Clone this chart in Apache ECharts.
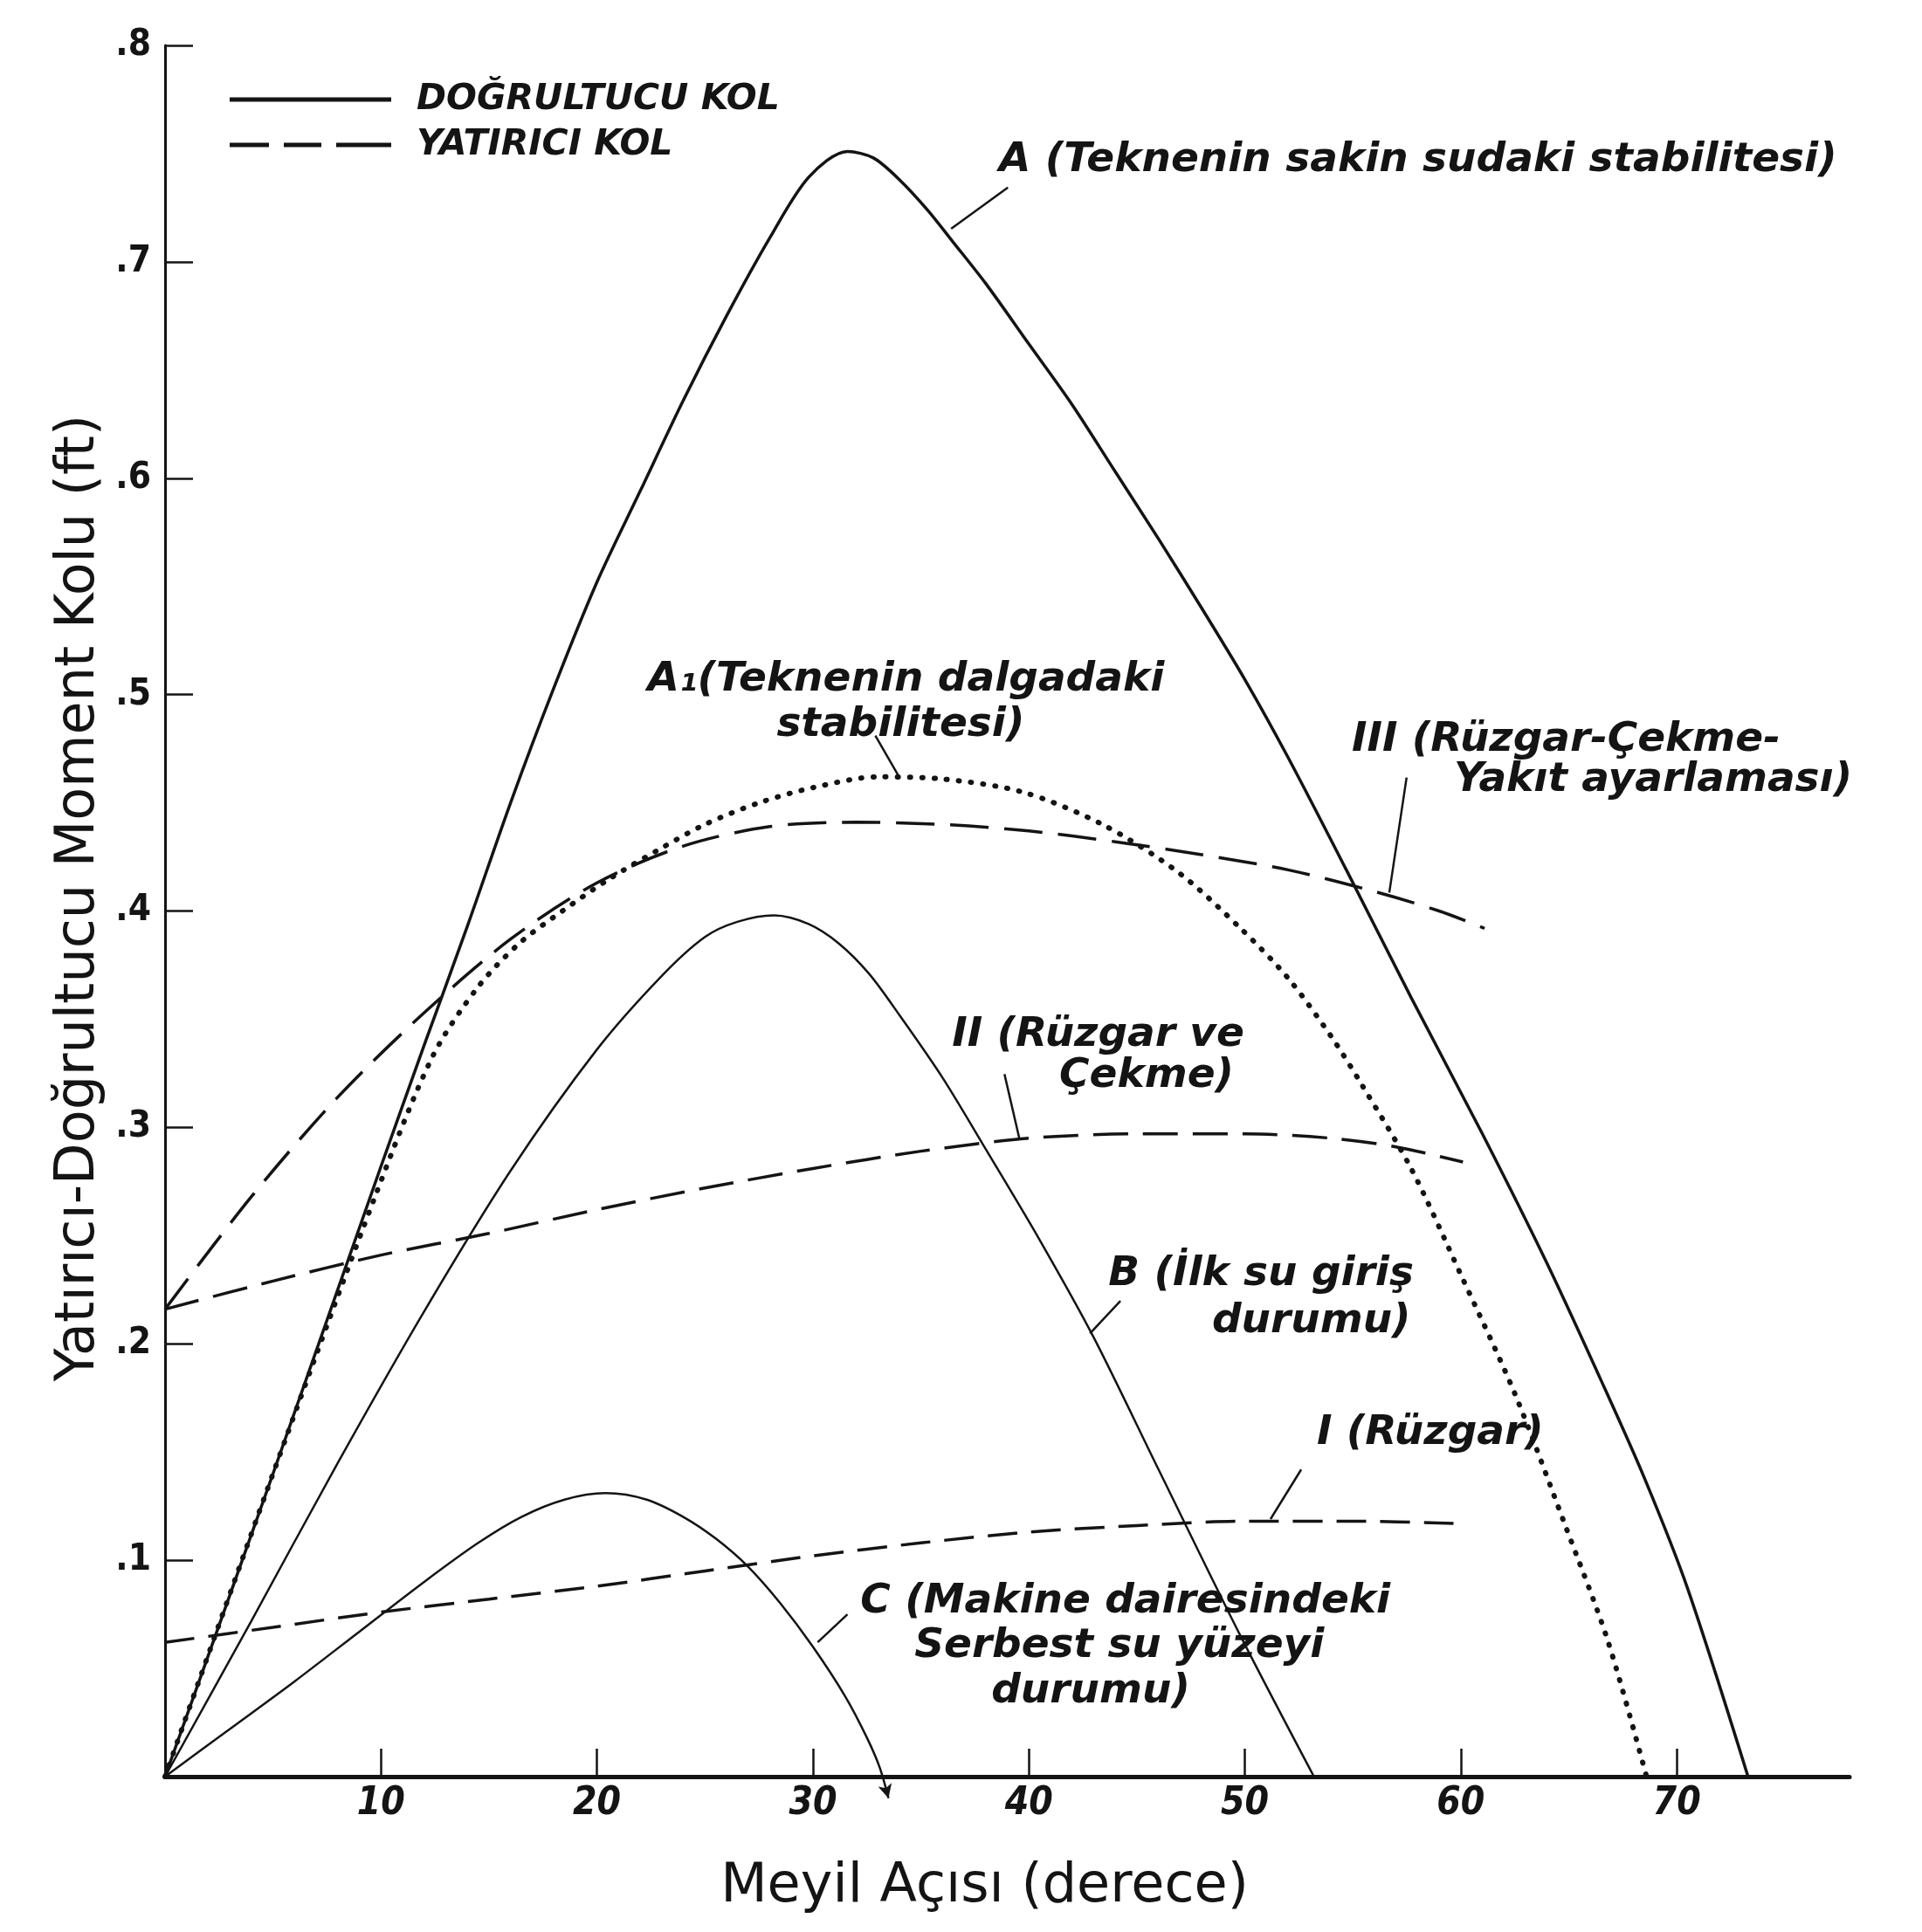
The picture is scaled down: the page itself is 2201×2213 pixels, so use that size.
<!DOCTYPE html>
<html>
<head>
<meta charset="utf-8">
<script src="https://cdn.jsdelivr.net/npm/echarts@6/dist/echarts.min.js"></script>
<style>
html,body{margin:0;padding:0;background:#fff;}
#chart{width:2201px;height:2213px;}
</style>
</head>
<body>
<div id="chart"></div>
<script>
// ---- axis ticks ----
const xTicks = [10, 20, 30, 40, 50, 60, 70];
const xTickLabels = ['10', '20', '30', '40', '50', '60', '70'];
const yTicks = [0.1, 0.2, 0.3, 0.4, 0.5, 0.6, 0.7, 0.8];
const yTickLabels = ['.1', '.2', '.3', '.4', '.5', '.6', '.7', '.8'];

// ---- A (solid) ----
const aX = [0, 5, 10, 12, 14, 16, 18, 20, 22, 24, 26, 28, 29.8, 31.6, 32.8, 34, 35.3, 36.5, 38, 40, 42, 44, 46, 48, 50, 52, 54.7, 57.7, 61, 64, 66.5, 68.5, 70.5, 73.3];
const aY = [0, 0.14, 0.282, 0.338, 0.393, 0.45, 0.503, 0.552, 0.594, 0.636, 0.675, 0.711, 0.739, 0.751, 0.748, 0.738, 0.724, 0.709, 0.69, 0.662, 0.634, 0.603, 0.572, 0.54, 0.507, 0.471, 0.419, 0.36, 0.297, 0.237, 0.183, 0.138, 0.087, 0];
// ---- A1 (dotted) ----
const a1X = [0, 5, 9.8, 12.4, 14.5, 16.4, 18.4, 20.6, 22.8, 25, 27.5, 30, 33, 36, 39.7, 43.4, 46.9, 49.8, 52, 54, 55.4, 57.7, 60, 62.5, 64.8, 66.8, 68.6];
const a1Y = [0, 0.14, 0.27, 0.333, 0.365, 0.385, 0.4, 0.415, 0.428, 0.44, 0.45, 0.457, 0.462, 0.461, 0.455, 0.44, 0.418, 0.392, 0.369, 0.342, 0.32, 0.281, 0.232, 0.177, 0.117, 0.063, 0];
// ---- B (solid) ----
const bX = [0, 4, 8, 12, 16, 20, 23, 25, 26.5, 28.2, 29.8, 31.2, 32.6, 34, 36, 38, 40.5, 43, 46, 49.8, 53.2];
const bY = [0, 0.072, 0.145, 0.215, 0.28, 0.336, 0.37, 0.388, 0.395, 0.398, 0.394, 0.385, 0.371, 0.352, 0.323, 0.29, 0.248, 0.203, 0.142, 0.065, 0];
// ---- C (solid) ----
const cX = [0, 3, 6, 9, 12, 14.5, 16.5, 18.5, 20.4, 22.3, 24, 25.5, 27, 28.5, 30, 31.5, 32.5, 33.1, 33.5];
const cY = [0, 0.022, 0.044, 0.067, 0.09, 0.108, 0.12, 0.128, 0.131, 0.128, 0.12, 0.11, 0.097, 0.08, 0.06, 0.037, 0.018, 0.004, -0.01];
// ---- I (dashed) ----
const s1X = [0, 5, 10, 15, 20, 25, 30, 35, 40, 45, 50, 55, 59.7];
const s1Y = [0.062, 0.069, 0.076, 0.082, 0.088, 0.095, 0.102, 0.108, 0.113, 0.116, 0.118, 0.118, 0.117];
// ---- II (dashed) ----
const s2X = [0, 5, 10, 15, 20, 25, 30, 35, 40, 45, 50, 54, 57, 60.1];
const s2Y = [0.216, 0.229, 0.241, 0.251, 0.262, 0.272, 0.281, 0.289, 0.295, 0.297, 0.297, 0.295, 0.291, 0.284];
// ---- III (dashed) ----
const s3X = [0, 4, 8, 12, 16, 20, 24, 28, 32, 36, 40, 44, 48, 52, 56, 59, 61.1];
const s3Y = [0.216, 0.268, 0.314, 0.353, 0.387, 0.413, 0.43, 0.439, 0.441, 0.44, 0.437, 0.432, 0.426, 0.419, 0.409, 0.4, 0.392];

// ---- legend ----
const legendNames = ['DOĞRULTUCU KOL', 'YATIRICI KOL'];

// ---- annotations (left edge, vertical centre, in data units) ----
const annoTexts = [
  'A (Teknenin sakin sudaki stabilitesi)',
  'A\u2081(Teknenin dalgadaki',
  'stabilitesi)',
  'III (Rüzgar-Çekme-',
  'Yakıt ayarlaması)',
  'II (Rüzgar ve',
  'Çekme)',
  'B (İlk su giriş',
  'durumu)',
  'I (Rüzgar)',
  'C (Makine dairesindeki',
  'Serbest su yüzeyi',
  'durumu)'
];
const annoX = [38.62, 22.34, 28.32, 54.95, 59.68, 36.44, 41.41, 43.68, 48.48, 53.33, 32.2, 34.7, 38.26];
const annoY = [0.7468, 0.5069, 0.4859, 0.479, 0.4605, 0.3427, 0.3238, 0.2319, 0.2101, 0.1585, 0.0806, 0.0601, 0.0391];

// ---- arrows from labels to curves ----
const arrowFromX = [39.03, 32.89, 57.49, 38.87, 44.24, 52.61, 31.6];
const arrowFromY = [0.7343, 0.481, 0.4617, 0.3246, 0.2198, 0.1419, 0.075];
const arrowToX = [36.4, 33.94, 56.69, 39.56, 42.83, 51.19, 30.22];
const arrowToY = [0.7153, 0.4629, 0.4085, 0.2948, 0.2048, 0.119, 0.0621];

function zip(xs, ys) { return xs.map((x, i) => [x, ys[i]]); }

const INK = '#141414';
const HAND = "'DejaVu Sans', sans-serif";
const TITLE = "'DejaVu Sans', sans-serif";
const TICKF = "'DejaVu Sans Condensed', 'DejaVu Sans', sans-serif";

const cData = zip(cX, cY);
cData[cData.length - 1] = { value: cData[cData.length - 1], symbol: 'arrow', symbolSize: [12, 16], symbolRotate: 195, itemStyle: { color: INK } };

const SOLID_ICON = 'path://M0,0H185V5H0Z';
const DASH_ICON = 'path://M0,0H45V5H0Z M62,0H105V5H62Z M122,0H185V5H122Z';

const noteLabel = { show: true, position: 'right', distance: 0, fontFamily: HAND, fontStyle: 'italic', fontWeight: 'bold', fontSize: 47, color: INK, opacity: 1 };

const chart = echarts.init(document.getElementById('chart'), null, { renderer: 'canvas' });

chart.setOption({
  backgroundColor: '#ffffff',
  animation: false,
  grid: { left: 189, right: 83, top: 52, bottom: 178 },
  legend: {
    data: [{ name: legendNames[0], icon: SOLID_ICON }, { name: legendNames[1], icon: DASH_ICON }],
    orient: 'vertical',
    left: 258,
    top: 88,
    itemWidth: 185,
    itemHeight: 5,
    itemGap: 10,
    selectedMode: false,
    itemStyle: { color: INK, borderWidth: 0 },
    textStyle: { fontFamily: HAND, fontStyle: 'italic', fontWeight: 'bold', fontSize: 41, lineHeight: 42, color: INK, padding: [0, 0, 0, 24] }
  },
  xAxis: {
    type: 'value', min: 0, max: 78, interval: 10,
    name: 'Meyil Açısı (derece)', nameLocation: 'middle', nameGap: 96,
    nameTextStyle: { fontFamily: TITLE, fontSize: 62, color: INK, padding: [0, 52, 0, 0] },
    axisLine: { show: true, onZero: false, lineStyle: { color: INK, width: 5 } },
    axisTick: { show: true, inside: true, length: 32, customValues: xTicks, lineStyle: { color: INK, width: 2.5 } },
    axisLabel: {
      customValues: xTicks, margin: 10,
      fontFamily: TICKF, fontStyle: 'italic', fontWeight: 'bold', fontSize: 44, color: INK,
      formatter: v => { const i = xTicks.indexOf(Math.round(v)); return i >= 0 ? xTickLabels[i] : ''; }
    },
    splitLine: { show: false }
  },
  yAxis: {
    type: 'value', min: 0, max: 0.8, interval: 0.1,
    name: 'Yatırıcı-Doğrultucu Moment Kolu (ft)', nameLocation: 'middle', nameGap: 66,
    nameTextStyle: { fontFamily: TITLE, fontSize: 62, color: INK, padding: [0, 0, 0, 30] },
    axisLine: { show: true, onZero: false, lineStyle: { color: INK, width: 3 } },
    axisTick: { show: true, inside: true, length: 32, customValues: yTicks, lineStyle: { color: INK, width: 2.5 } },
    axisLabel: {
      customValues: yTicks, margin: 16,
      fontFamily: TICKF, fontWeight: 'bold', fontSize: 42, color: INK,
      formatter: v => { const i = Math.round(v * 10) - 1; return (i >= 0 && i < yTickLabels.length) ? yTickLabels[i] : ''; }
    },
    splitLine: { show: false }
  },
  series: [
    { name: 'DOĞRULTUCU KOL', type: 'line', data: zip(aX, aY), smooth: 0.3, symbol: 'none', lineStyle: { color: INK, width: 3.5 }, itemStyle: { color: INK }, z: 5 },
    { name: 'A\u2081', type: 'line', data: zip(a1X, a1Y), smooth: 0.3, symbol: 'none', lineStyle: { color: INK, width: 6, type: [1, 13], cap: 'round' }, itemStyle: { color: INK }, z: 4 },
    { name: 'DOĞRULTUCU KOL', type: 'line', data: zip(bX, bY), smooth: 0.3, symbol: 'none', lineStyle: { color: INK, width: 2.5 }, itemStyle: { color: INK } },
    { name: 'DOĞRULTUCU KOL', type: 'line', data: cData, smooth: 0.3, symbol: 'none', showSymbol: true, clip: false, lineStyle: { color: INK, width: 2.5 }, itemStyle: { color: INK } },
    { name: 'YATIRICI KOL', type: 'line', data: zip(s1X, s1Y), smooth: 0.3, symbol: 'none', lineStyle: { color: INK, width: 3.5, type: [34, 16] }, itemStyle: { color: INK } },
    { name: 'YATIRICI KOL', type: 'line', data: zip(s2X, s2Y), smooth: 0.3, symbol: 'none', lineStyle: { color: INK, width: 3.5, type: [40, 17] }, itemStyle: { color: INK } },
    { name: 'YATIRICI KOL', type: 'line', data: zip(s3X, s3Y), smooth: 0.3, symbol: 'none', lineStyle: { color: INK, width: 3.5, type: [44, 18] }, itemStyle: { color: INK } },
    {
      name: 'notes', type: 'scatter', silent: true, symbol: 'circle', symbolSize: 0,
      itemStyle: { color: INK, opacity: 1 },
      emphasis: { disabled: true },
      data: annoTexts.map((t, i) => ({ value: [annoX[i], annoY[i]], label: Object.assign({}, noteLabel, { formatter: t }) })),
      label: noteLabel,
      markLine: {
        silent: true, symbol: ['none', 'arrow'], symbolSize: [0, 16], precision: 4,
        label: { show: false },
        emphasis: { disabled: true },
        lineStyle: { color: INK, width: 2.5, type: 'solid', opacity: 1 },
        data: arrowFromX.map((x, i) => [{ coord: [x, arrowFromY[i]] }, { coord: [arrowToX[i], arrowToY[i]] }])
      }
    }
  ]
});
</script>
</body>
</html>
